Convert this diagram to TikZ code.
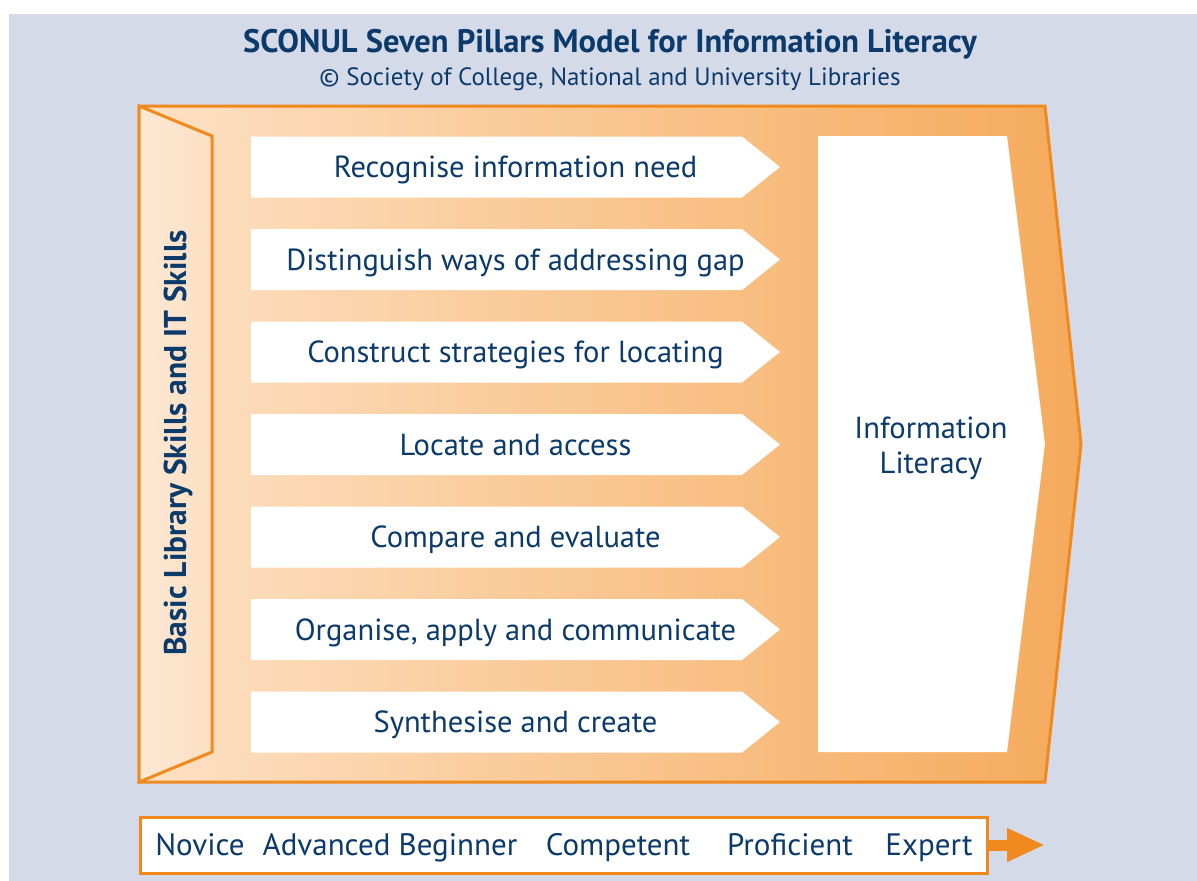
\documentclass[tikz,border=0pt]{standalone}
\usepackage{fontspec}
\setmainfont{PT Sans}
\usetikzlibrary{arrows.meta,positioning}
\definecolor{backblue}{HTML}{D4DAE8}
\definecolor{sconulnavy}{HTML}{0B3A6B}
\definecolor{pillarorange}{HTML}{F08A1E}
\definecolor{peachlight}{HTML}{FDE1C4}
\definecolor{peachdark}{HTML}{F5AA5C}
\definecolor{panelpeach}{HTML}{FCDFC2}

\begin{document}
\begin{tikzpicture}[x=1pt,y=-1pt,
    titletext/.style={text=sconulnavy, anchor=base, font=\bfseries\fontsize{32.5}{38}\selectfont},
    subtext/.style={text=sconulnavy, anchor=base, font=\fontsize{25}{30}\selectfont},
    pillartext/.style={text=sconulnavy, anchor=base, font=\fontsize{30.5}{35}\selectfont},
    leveltext/.style={text=sconulnavy, anchor=base, font=\fontsize{31}{36}\selectfont},
    sidetext/.style={text=sconulnavy, anchor=base, rotate=90, font=\bfseries\fontsize{31.5}{36}\selectfont}]
    \useasboundingbox (0,0) rectangle (1197,881);

    % Background
    \fill[backblue] (9,14) rectangle (1197,881);

    % Title
    \node[titletext] (title) at (610,52) {SCONUL Seven Pillars Model for Information Literacy};
    \node[subtext] (subtitle) at (610,85) {\textcopyright\ Society of College, National and University Libraries};

    % Big arrow
    \shadedraw[left color=peachlight, right color=peachdark, draw=pillarorange, line width=3]
        (139,106) -- (1045,106) -- (1081,444) -- (1045,782) -- (139,782) -- cycle;

    % Side panel
    \shadedraw[left color=panelpeach!70!white, right color=panelpeach, draw=pillarorange, line width=3]
        (139,106) -- (212,136) -- (212,752) -- (139,782) -- cycle;
    \node[sidetext] (basic) at (186,443) {Basic Library Skills and IT Skills};

    % The seven pillars
    \foreach \lbl [count=\i] in {Recognise information need, Distinguish ways of addressing gap,
        Construct strategies for locating, Locate and access, Compare and evaluate,
        {Organise, apply and communicate}, Synthesise and create}
    {
        \pgfmathsetmacro{\py}{167+92.5*(\i-1)}
        \fill[white] (251,\py-30.5) -- (742,\py-30.5) -- (780,\py) -- (742,\py+30.5) -- (251,\py+30.5) -- cycle;
        \node[pillartext] (pillar\i) at (515.5,\py+10.5) {\lbl};
    }

    % Information literacy
    \fill[white] (818,136) -- (1007,136) -- (1045,444) -- (1007,752) -- (818,752) -- cycle;
    \node[pillartext, anchor=center, align=center] (infolit) at (931,448) {Information\\Literacy};

    % Levels
    \node[draw=pillarorange, fill=white, line width=3, minimum width=847, minimum height=56, inner sep=0] (levels) at (564,845) {};
    \coordinate (levelend) at (1045,845);
    \draw[pillarorange, line width=11, -{Triangle[length=38pt, width=31pt]}] (levels.east) -- (levelend);
    \node[leveltext] (novice) at (200,855) {Novice};
    \node[leveltext] (advanced) at (390,855) {Advanced Beginner};
    \node[leveltext] (competent) at (618,855) {Competent};
    \node[leveltext] (proficient) at (790,855) {Proficient};
    \node[leveltext] (expert) at (929,855) {Expert};
\end{tikzpicture}
\end{document}
